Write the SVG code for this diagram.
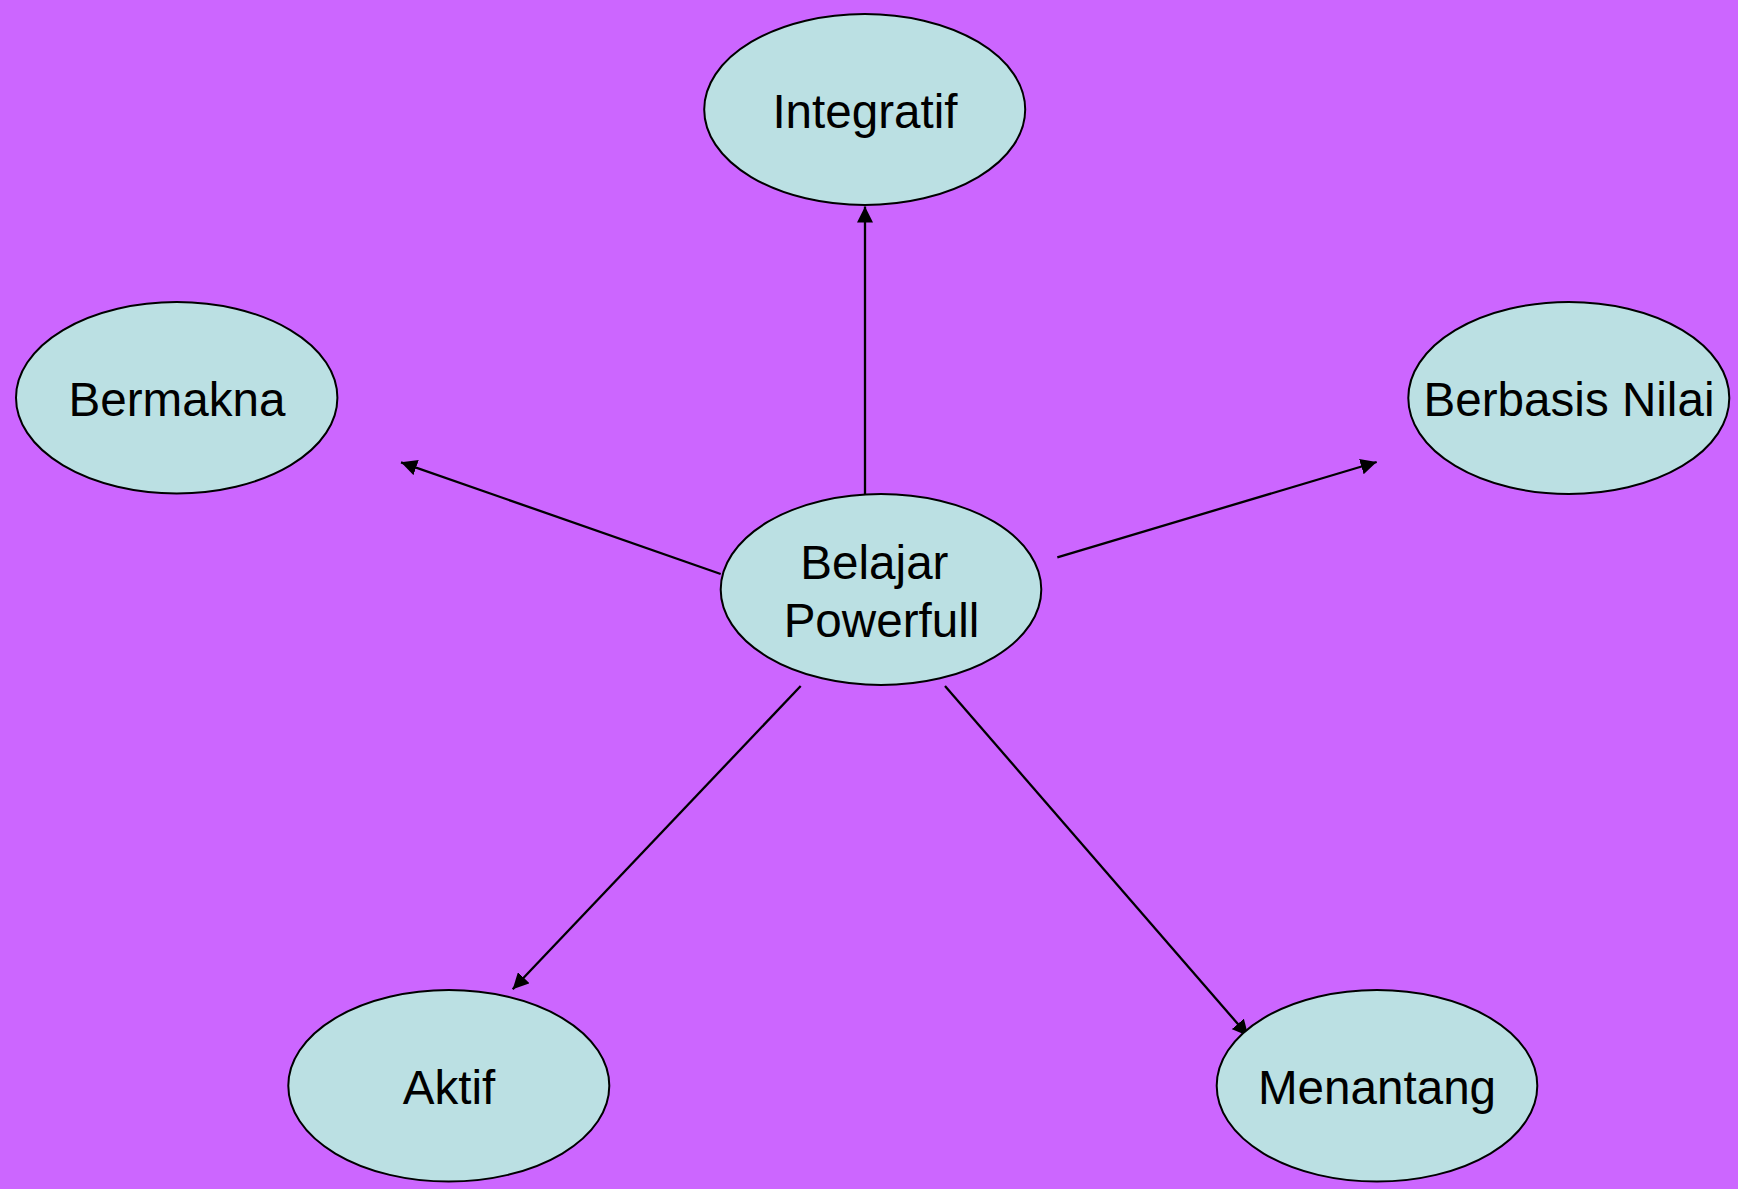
<svg xmlns="http://www.w3.org/2000/svg" width="1738" height="1189" viewBox="0 0 1738 1189">
<style>
.node ellipse{fill:#BBE0E3;stroke:#000;stroke-width:2}
.node text{font-family:"Liberation Sans",Arial,sans-serif;font-size:47.6px;fill:#000;text-anchor:middle}
.edges line{stroke:#000;stroke-width:2.3;marker-end:url(#ah)}
</style>
<defs>
<marker id="ah" markerUnits="userSpaceOnUse" markerWidth="17" markerHeight="16" refX="16" refY="8" orient="auto" viewBox="0 0 17 16">
<path d="M0,0 L16,8 L0,16 z" fill="#000"/>
</marker>
</defs>
<rect width="1738" height="1189" fill="#CC66FF"/>
<g class="edges">
<line x1="865" y1="494" x2="865" y2="206.5"/>
<line x1="720.7" y1="574" x2="401" y2="462.3"/>
<line x1="1057.3" y1="557.3" x2="1376.7" y2="462"/>
<line x1="800.7" y1="686" x2="512.7" y2="989.3"/>
<line x1="945" y1="686" x2="1248.3" y2="1036"/>
</g>
<g id="integratif" class="node"><ellipse cx="864.7" cy="109.5" rx="160.5" ry="95.5"/><text x="865" y="127.7">Integratif</text></g>
<g id="bermakna" class="node"><ellipse cx="176.7" cy="397.7" rx="160.7" ry="95.7"/><text x="177" y="416">Bermakna</text></g>
<g id="berbasis" class="node"><ellipse cx="1568.8" cy="398" rx="160.5" ry="96"/><text x="1569" y="416">Berbasis Nilai</text></g>
<g id="belajar" class="node"><ellipse cx="881" cy="589.5" rx="160.3" ry="95.5"/><text x="881" y="579" xml:space="preserve">Belajar </text><text x="881.5" y="636.7">Powerfull</text></g>
<g id="aktif" class="node"><ellipse cx="448.8" cy="1085.8" rx="160.5" ry="95.8"/><text x="449" y="1104">Aktif</text></g>
<g id="menantang" class="node"><ellipse cx="1377" cy="1085.8" rx="160.3" ry="95.8"/><text x="1377" y="1104">Menantang</text></g>
</svg>
